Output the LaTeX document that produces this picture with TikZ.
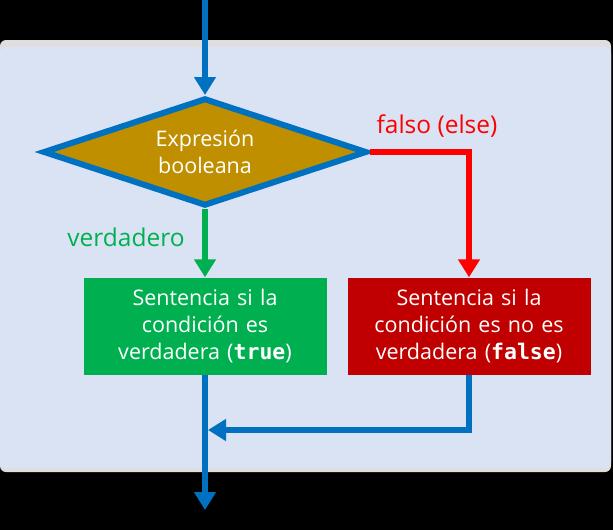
\documentclass[tikz,border=0pt]{standalone}
\usepackage{fontspec}
\setmainfont{Open Sans}
\setmonofont{DejaVu Sans Mono}
\usetikzlibrary{shapes.geometric,arrows.meta,positioning}
\definecolor{flowblue}{HTML}{0070C0}
\definecolor{condgold}{HTML}{BF8F00}
\definecolor{truegreen}{HTML}{00B050}
\definecolor{falsered}{HTML}{C00000}
\definecolor{elsered}{HTML}{FF0000}
\definecolor{panelblue}{HTML}{DAE3F3}
\definecolor{panelgray}{HTML}{DEDEDE}
\begin{document}
\begin{tikzpicture}[x=1pt, y=-1pt]
    % Define styles
    \tikzset{
        decision/.style={
            draw=flowblue,
            line width=6pt,
            fill=condgold,
            diamond,
            aspect=3,
            inner sep=0pt,
            minimum width=324pt,
            minimum height=108pt,
            text=white,
            align=center,
            font=\fontsize{21.5}{27}\selectfont
        },
        process/.style={
            rectangle,
            minimum width=243pt,
            minimum height=97pt,
            text width=235pt,
            text=white,
            align=center,
            font=\fontsize{21.5}{27}\selectfont
        },
        arrow/.style={
            -{Triangle[length=18pt, width=21pt]},
            line width=6pt
        },
        branch/.style={
            font=\fontsize{24.5}{30}\selectfont
        }
    }

    % Background and panel
    \fill[black] (0,0) rectangle (613,530);
    \useasboundingbox (0,0) rectangle (613,530);
    \fill[panelgray, rounded corners=6pt] (0,40) rectangle (611,472);
    \fill[panelblue, rounded corners=6pt] (0,47) rectangle (611,468);

    % Condition
    \coordinate (start) at (205,0);
    \node[decision] (cond) at (205,152) {Expresión\\booleana};

    % Statements
    \node[process, fill=truegreen] (stmttrue) at (205,326)
        {Sentencia si la\\condición es\\verdadera (\texttt{\bfseries true})};
    \node[process, fill=falsered] (stmtfalse) at (469,326)
        {Sentencia si la\\condición es no es\\verdadera (\texttt{\bfseries false})};

    % Junction points
    \coordinate (elsecorner) at (469,152);
    \coordinate (mergecorner) at (469,430);
    \coordinate (merge) at (205,430);
    \coordinate (finish) at (205,510);

    % Connectors
    \draw[arrow, flowblue] (start) -- (cond.north);
    \draw[arrow, truegreen] (cond.south) -- (stmttrue.north);
    \draw[arrow, elsered] (cond.east) -- (elsecorner) -- (stmtfalse.north);
    \draw[arrow, flowblue] (stmttrue.south) -- (finish);
    \draw[arrow, flowblue, shorten >=3pt] (stmtfalse.south) -- (mergecorner) -- (merge);

    % Branch labels
    \node[branch, text=truegreen] (truelabel) at (126,237) {verdadero};
    \node[branch, text=elsered] (falselabel) at (437,126) {falso (else)};
\end{tikzpicture}
\end{document}
